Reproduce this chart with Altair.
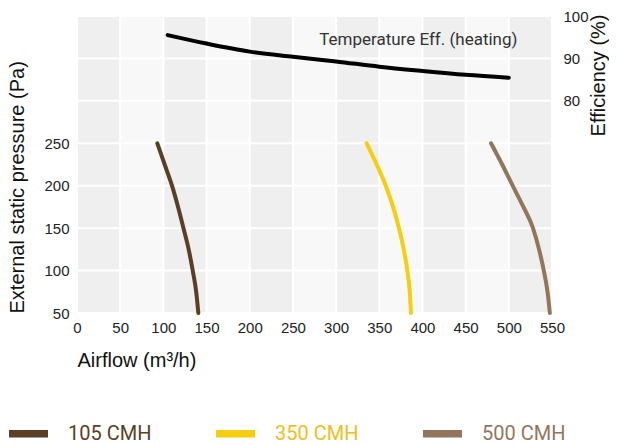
import altair as alt
import pandas as pd

# ---- data ----
pressure = [250, 225, 200, 175, 150, 125, 100, 75, 50]
airflow_105 = [93, 101.5, 110, 117, 123.3, 129.3, 134, 138, 140.5]
airflow_350 = [335.4, 347, 357.5, 366, 372.8, 378.3, 382.5, 385.3, 386.7]
airflow_500 = [479.4, 492.3, 504.5, 516.9, 528, 535, 540.5, 544.8, 547.5]
series_names = ["105 CMH", "350 CMH", "500 CMH"]
series_colors = ["#5b3f24", "#f7cd10", "#93765a"]

eff_airflow = [105, 150, 200, 250, 300, 350, 400, 450, 500]
eff_values = [95.5, 93.5, 91.6, 90.4, 89.3, 88.05, 87.05, 86.15, 85.45]
eff_label = "Temperature Eff. (heating)"
eff_label_pos = [510, 94.3]

x_ticks = [0, 50, 100, 150, 200, 250, 300, 350, 400, 450, 500, 550]
y_ticks = [50, 100, 150, 200, 250]
y_grid = [50, 100, 150, 200, 250, 300, 350, 400]
eff_ticks = [80, 90, 100]
band_starts = [0, 100, 200, 300, 400, 500]
band_width = 50

X_DOMAIN = [0, 550]
Y_DOMAIN = [50, 400]
EFF_DOMAIN = [30, 100]

# ---- tables ----
curves = pd.DataFrame({
    "airflow": airflow_105 + airflow_350 + airflow_500,
    "pressure": pressure * 3,
    "series": [series_names[0]] * len(pressure) + [series_names[1]] * len(pressure) + [series_names[2]] * len(pressure),
})
eff_df = pd.DataFrame({"airflow": eff_airflow, "eff": eff_values})
bands = pd.DataFrame({"start": band_starts, "end": [b + band_width for b in band_starts]})
vgrid = pd.DataFrame({"x": x_ticks})
hgrid = pd.DataFrame({"y": y_grid})
label_df = pd.DataFrame({"airflow": [eff_label_pos[0]], "eff": [eff_label_pos[1]], "text": [eff_label]})

label_color_expr = "datum.value == '%s' ? '%s' : datum.value == '%s' ? '%s' : '%s'" % (
    series_names[0], series_colors[0], series_names[1], "#f0be1e", series_colors[2])

xscale = alt.Scale(domain=X_DOMAIN, nice=False, zero=False)
yscale = alt.Scale(domain=Y_DOMAIN, nice=False, zero=False)
escale = alt.Scale(domain=EFF_DOMAIN, nice=False, zero=False)

x_axis = alt.Axis(values=x_ticks, grid=False, ticks=False, domain=False, labelPadding=7,
                  title="Airflow (m³/h)", titleAlign="left", titleBaseline="alphabetic",
                  titleX=0, titleY=53, labelFlush=False)

band_layer = alt.Chart(bands).mark_rect(color="#efefef").encode(
    x=alt.X("start:Q", scale=xscale, axis=x_axis),
    x2="end:Q",
)
vgrid_layer = alt.Chart(vgrid).mark_rule(color="white", strokeWidth=2).encode(
    x=alt.X("x:Q", scale=xscale)
)
hgrid_layer = alt.Chart(hgrid).mark_rule(color="white", strokeWidth=2).encode(
    y=alt.Y("y:Q", scale=yscale,
            axis=alt.Axis(values=y_ticks, grid=False, ticks=False, domain=False, labelPadding=8,
                          title="External static pressure (Pa)", titleAngle=270,
                          titleAlign="left", titleBaseline="alphabetic", titleX=-54, titleY=297))
)
curve_layer = alt.Chart(curves).mark_line(strokeWidth=4, strokeCap="round", interpolate="monotone").encode(
    x=alt.X("airflow:Q", scale=xscale),
    y=alt.Y("pressure:Q", scale=yscale),
    color=alt.Color("series:N", scale=alt.Scale(domain=series_names, range=series_colors),
                    legend=alt.Legend(orient="none", legendX=-72, legendY=394, direction="horizontal",
                                      title=None, symbolType="stroke", symbolSize=1521,
                                      symbolStrokeWidth=7.5, labelFont="Roboto", labelFontSize=20,
                                      labelOffset=16, columnPadding=49,
                                      labelColor=alt.ExprRef(expr=label_color_expr))),
    order=alt.Order("airflow:Q"),
)
left = alt.layer(band_layer, vgrid_layer, hgrid_layer, curve_layer)

eff_line = alt.Chart(eff_df).mark_line(color="black", strokeWidth=4, strokeCap="round", interpolate="monotone").encode(
    x=alt.X("airflow:Q", scale=xscale),
    y=alt.Y("eff:Q", scale=escale,
            axis=alt.Axis(orient="right", values=eff_ticks, grid=False, ticks=False, domain=False,
                          labelPadding=11, title="Efficiency (%)", titleAngle=270,
                          titleAlign="right", titleBaseline="alphabetic", titleX=52, titleY=-2)),
)
eff_text = alt.Chart(label_df).mark_text(align="right", baseline="middle", font="Roboto",
                                         fontSize=17, color="#333333").encode(
    x=alt.X("airflow:Q", scale=xscale),
    y=alt.Y("eff:Q", scale=escale),
    text="text:N",
)
right = alt.layer(eff_line, eff_text)

chart = alt.layer(left, right).resolve_scale(y="independent").properties(
    width=475, height=297,
    padding={"left": 69, "top": 8, "right": 57, "bottom": 129},
    autosize=alt.AutoSizeParams(type="none"),
    background="white",
).configure_view(stroke=None, fill="#f8f8f8").configure_axis(
    labelFont="Liberation Sans", labelFontSize=15, labelColor="#222222",
    titleFont="Liberation Sans", titleFontSize=20, titleFontWeight="normal", titleColor="#111111",
)

chart.save("out.html", embed_options={"renderer": "svg", "actions": False})
